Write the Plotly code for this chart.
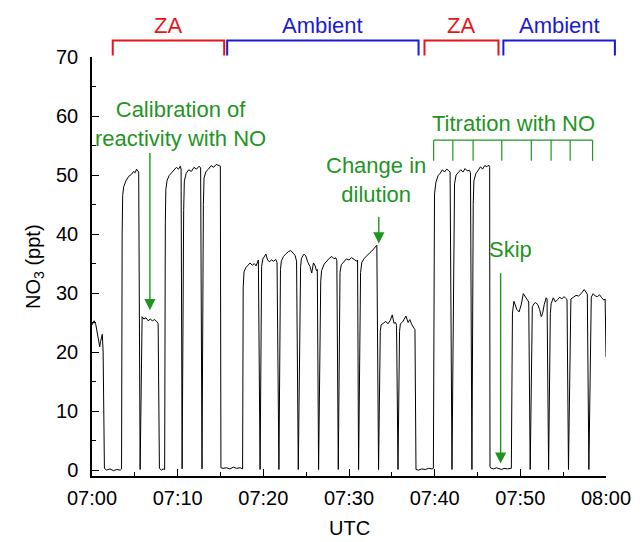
import plotly.graph_objects as go

# ---------------- data ----------------
# time in minutes after 07:00 UTC
t_min = [
    0.0, 0.25, 0.45, 0.6, 0.9, 1.0, 1.2, 1.3, 1.45,
    1.7, 2.1, 2.5, 2.9, 3.3, 3.45,
    3.52, 3.58, 3.7, 3.95, 4.3, 4.6, 4.85, 5.05, 5.2, 5.35, 5.45, 5.62,
    5.79, 5.85, 6.05, 6.3, 6.55, 6.8, 7.05, 7.3, 7.55, 7.72, 7.87,
    8.1, 8.3, 8.48,
    8.56, 8.62, 8.75, 9.0, 9.3, 9.6, 9.85, 10.1, 10.3, 10.40, 10.52,
    10.7, 10.78, 11.0, 11.3, 11.6, 11.9, 12.2, 12.5, 12.68, 12.84,
    13.0, 13.08, 13.3, 13.6, 13.9, 14.2, 14.5, 14.8, 14.98, 15.05,
    15.3, 15.7, 16.1, 16.5, 16.9, 17.3, 17.58,
    17.65, 17.75, 17.95, 18.2, 18.45, 18.7, 18.95, 19.15, 19.3, 19.42, 19.62,
    19.8, 19.95, 20.15, 20.3, 20.5, 20.7, 20.95, 21.2, 21.45, 21.6, 21.82,
    22.0, 22.1, 22.35, 22.6, 22.9, 23.2, 23.45, 23.7, 23.88, 24.08,
    24.35, 24.45, 24.75, 24.95, 25.2, 25.45, 25.65, 25.85, 26.05, 26.2, 26.3, 26.45,
    26.7, 26.8, 27.1, 27.4, 27.7, 28.0, 28.25, 28.45, 28.58, 28.75,
    28.95, 29.1, 29.4, 29.7, 30.0, 30.3, 30.6, 30.9, 31.0, 31.12,
    31.35, 31.5, 31.8, 32.1, 32.4, 32.65, 32.9, 33.1, 33.25, 33.45,
    33.65, 33.75, 34.0, 34.3, 34.55, 34.8, 35.05, 35.25, 35.45, 35.55, 35.72,
    35.9, 36.0, 36.25, 36.45, 36.65, 36.9, 37.1, 37.35, 37.6, 37.7, 37.82,
    38.1, 38.5, 38.9, 39.3, 39.7, 39.85,
    39.92, 39.98, 40.15, 40.4, 40.65, 40.9, 41.15, 41.4, 41.6, 41.8, 42.02,
    42.25, 42.32, 42.5, 42.8, 43.05, 43.3, 43.55, 43.8, 44.05, 44.18, 44.35,
    44.5, 44.58, 44.8, 45.1, 45.35, 45.6, 45.85, 46.1, 46.3, 46.42, 46.46,
    46.6, 46.9, 47.2, 47.5, 47.8, 48.1, 48.5, 48.95,
    49.0, 49.08, 49.25, 49.4, 49.6, 49.85, 50.1, 50.35, 50.6, 50.85, 50.98, 51.15,
    51.32, 51.4, 51.6, 51.8, 52.05, 52.25, 52.45, 52.6, 52.8, 53.02, 53.12, 53.3,
    53.5, 53.6, 53.85, 54.1, 54.35, 54.6, 54.85, 55.1, 55.3, 55.45, 55.62,
    55.82, 55.9, 56.2, 56.5, 56.8, 57.1, 57.45, 57.65, 57.82, 58.0,
    58.2, 58.28, 58.5, 58.75, 59.0, 59.25, 59.5, 59.75, 59.9, 60.0,
]
# NO3 mixing ratio, ppt
no3_ppt = [
    24.6, 25.3, 24.6, 23.5, 20.9, 21.8, 23.0, 20.0, 0.3,
    0.0, 0.2, -0.1, 0.1, 0.0, 0.2,
    40.0, 46.5, 48.0, 49.0, 49.8, 50.1, 50.6, 50.4, 51.0, 50.8, 50.5, 0.1,
    24.5, 26.0, 25.6, 25.8, 25.3, 25.6, 25.3, 25.5, 25.2, 24.8, 0.3,
    0.0, 0.2, 0.1,
    42.0, 47.5, 49.0, 49.9, 50.4, 50.8, 51.3, 51.0, 51.5, 51.0, 0.2,
    44.0, 49.0, 50.3, 50.9, 50.6, 51.3, 51.0, 51.5, 51.2, 0.2,
    45.0, 49.5, 50.6, 51.0, 51.6, 51.3, 51.8, 51.6, 51.5, 0.4,
    0.3, 0.4, 0.2, 0.5, 0.3, 0.4, 0.2,
    31.0, 33.6, 34.3, 34.8, 35.1, 34.7, 35.0, 34.6, 35.2, 35.6, 0.1,
    34.5, 35.8, 36.4, 36.6, 35.6, 35.3, 35.6, 35.4, 35.7, 35.2, 0.1,
    34.0, 35.4, 36.2, 36.6, 37.0, 37.2, 36.8, 36.4, 35.4, 0.1,
    34.5, 35.9, 36.6, 36.3, 35.2, 34.5, 33.4, 35.1, 34.6, 33.8, 34.0, 0.1,
    32.0, 33.8, 34.9, 35.5, 35.9, 36.2, 35.8, 36.0, 35.5, 0.1,
    33.5, 34.8, 35.4, 35.8, 35.6, 36.0, 35.7, 35.4, 35.6, 0.1,
    33.5, 35.2, 35.9, 36.4, 36.8, 37.1, 37.5, 37.8, 38.1, 0.1,
    23.5, 24.6, 24.9, 25.2, 24.8, 25.3, 26.3, 24.9, 25.0, 24.5, 0.1,
    23.5, 24.8, 25.1, 25.6, 26.1, 25.0, 25.5, 24.6, 24.1, 23.8, 0.1,
    0.0, 0.2, 0.1, 0.3, 0.2, 0.3,
    42.0, 46.8, 48.8, 49.9, 50.3, 50.9, 50.5, 51.0, 50.8, 50.5, 0.1,
    44.0, 48.5, 50.0, 50.6, 50.9, 50.5, 51.1, 50.7, 50.8, 50.4, 0.1,
    45.0, 49.0, 50.2, 50.9, 51.4, 51.0, 51.6, 51.4, 51.7, 51.3, 0.5,
    0.3, 0.2, 0.4, 0.3, 0.1, 0.3, 0.2, 0.3,
    24.0, 26.6, 28.6, 28.0, 27.2, 26.8, 28.0, 29.9, 29.3, 28.8, 28.5, 0.1,
    26.0, 27.7, 28.2, 28.4, 28.0, 27.2, 26.0, 26.6, 28.1, 29.2, 29.0, 0.1,
    26.5, 28.2, 29.2, 28.5, 28.9, 29.3, 29.0, 29.4, 29.1, 28.9, 0.1,
    27.0, 29.0, 29.3, 29.6, 29.5, 29.9, 30.6, 30.1, 29.8, 0.1,
    27.5, 29.3, 29.9, 29.5, 29.4, 29.7, 29.2, 28.8, 29.0, 19.2,
]

x_tick_vals = [0, 10, 20, 30, 40, 50, 60]
x_tick_text = ["07:00", "07:10", "07:20", "07:30", "07:40", "07:50", "08:00"]
y_tick_vals = [0, 10, 20, 30, 40, 50, 60, 70]
x_range = [0, 60]
y_range = [-1, 70]

# measurement periods (minutes after 07:00)
period_labels = ["ZA", "Ambient", "ZA", "Ambient"]
period_start = [2.42, 15.78, 38.81, 48.02]
period_end = [15.43, 38.12, 47.45, 61.04]
period_colors = ["#e8141c", "#1a1ad8", "#e8141c", "#1a1ad8"]

# titration with NO: step marks
titration_marks = [39.88, 42.12, 44.49, 47.83, 51.28, 53.59, 55.82, 58.43]

GREEN = "#1f951f"
FONT = "Liberation Sans, Arial, sans-serif"

# ---------------- figure ----------------
fig = go.Figure()
fig.add_trace(go.Scatter(x=t_min, y=no3_ppt, mode="lines",
                         line=dict(color="black", width=1), showlegend=False,
                         hoverinfo="skip"))


def xp(t):
    return (t - x_range[0]) / (x_range[1] - x_range[0])


def yp(v):
    return (v - y_range[0]) / (y_range[1] - y_range[0])


shapes = []
annotations = []
# period brackets above the plot
b_top, b_leg, b_lab = 72.8, 70.25, 75.3
for lab, s, e, c in zip(period_labels, period_start, period_end, period_colors):
    shapes.append(dict(type="path", xref="paper", yref="paper",
                       path=f"M {xp(s)},{yp(b_leg)} L {xp(s)},{yp(b_top)} "
                            f"L {xp(e)},{yp(b_top)} L {xp(e)},{yp(b_leg)}",
                       line=dict(color=c, width=2)))
    annotations.append(dict(xref="paper", yref="paper", x=xp((s + e) / 2), y=yp(b_lab),
                            text=lab, showarrow=False, xanchor="center", yanchor="middle",
                            font=dict(family=FONT, size=22, color=c)))

# titration comb
comb_top, comb_bot = 55.9, 52.4
shapes.append(dict(type="line", xref="x", yref="y", x0=titration_marks[0], x1=titration_marks[-1],
                   y0=comb_top, y1=comb_top, line=dict(color=GREEN, width=1.2)))
for m in titration_marks:
    shapes.append(dict(type="line", xref="x", yref="y", x0=m, x1=m, y0=comb_top, y1=comb_bot,
                       line=dict(color=GREEN, width=1.2)))

# green labels
for txt, x, y in [("Calibration of<br>reactivity with NO", 10.3, 58.7),
                  ("Change in<br>dilution", 33.2, 49.2),
                  ("Titration with NO", 49.2, 58.8),
                  ("Skip", 48.9, 37.3)]:
    annotations.append(dict(xref="x", yref="y", x=x, y=y, text=txt, showarrow=False,
                            xanchor="center", yanchor="middle",
                            font=dict(family=FONT, size=22, color=GREEN)))

# arrows (tip x, tip y, tail y)
for x, tip, tail in [(6.76, 27.1, 54.0), (33.48, 38.4, 43.2), (47.7, 1.1, 33.6)]:
    annotations.append(dict(xref="x", yref="y", x=x, y=tip, axref="x", ayref="y", ax=x, ay=tail,
                            text="", showarrow=True, arrowhead=2, arrowsize=1.6,
                            arrowwidth=1.4, arrowcolor=GREEN, standoff=0, startstandoff=0))

# axis titles
annotations.append(dict(xref="paper", yref="paper", x=0.5, y=-0.124, text="UTC",
                        showarrow=False, xanchor="center", yanchor="middle",
                        font=dict(family=FONT, size=20, color="black")))
annotations.append(dict(xref="paper", yref="paper", x=-0.112, y=0.5, text="NO<sub>3</sub> (ppt)",
                        showarrow=False, xanchor="center", yanchor="middle", textangle=-90,
                        font=dict(family=FONT, size=20, color="black")))

axis_common = dict(showline=True, linecolor="black", linewidth=1.5, mirror=False,
                   ticks="inside", ticklen=7, tickwidth=1.3, tickcolor="black",
                   showgrid=False, zeroline=False,
                   tickfont=dict(family=FONT, size=20, color="black"))

fig.update_layout(
    width=643, height=542, autosize=False,
    margin=dict(l=92, r=30, t=57, b=66, pad=0),
    plot_bgcolor="white", paper_bgcolor="white",
    shapes=shapes, annotations=annotations,
    xaxis=dict(range=x_range, tickmode="array", tickvals=x_tick_vals, ticktext=x_tick_text,
               minor=dict(ticks="inside", ticklen=4, tickwidth=1.1, tickcolor="black",
                          tick0=0, dtick=5),
               ticklabelstandoff=3, **axis_common),
    yaxis=dict(range=y_range, tickmode="array", tickvals=y_tick_vals,
               minor=dict(ticks="inside", ticklen=4, tickwidth=1.1, tickcolor="black",
                          tick0=0, dtick=5),
               ticklabelstandoff=8, **axis_common),
)

fig.write_html("out.html")
